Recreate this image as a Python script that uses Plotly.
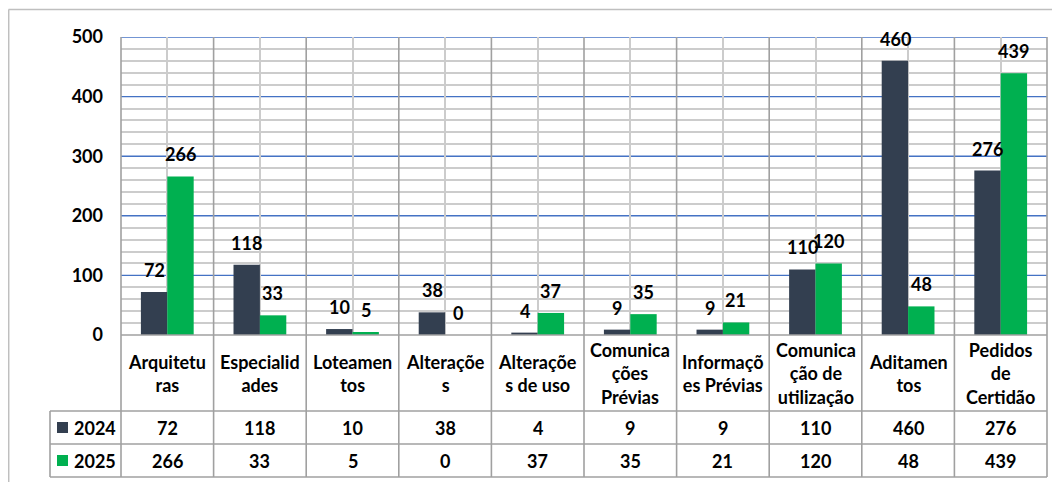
import plotly.graph_objects as go

categories = ["Arquiteturas", "Especialidades", "Loteamentos", "Alterações",
              "Alterações de uso", "Comunicações Prévias", "Informações Prévias",
              "Comunicação de utilização", "Aditamentos", "Pedidos de Certidão"]
wrapped_labels = ["Arquitetu<br>ras", "Especialid<br>ades", "Loteamen<br>tos",
                  "Alteraçõe<br>s", "Alteraçõe<br>s de uso", "Comunica<br>ções<br>Prévias",
                  "Informaçõ<br>es Prévias", "Comunica<br>ção de<br>utilização",
                  "Aditamen<br>tos", "Pedidos<br>de<br>Certidão"]
series_names = ["2024", "2025"]
values_2024 = [72, 118, 10, 38, 4, 9, 9, 110, 460, 276]
values_2025 = [266, 33, 5, 0, 37, 35, 21, 120, 48, 439]
y_ticks = [0, 100, 200, 300, 400, 500]
minor_ticks = [v for v in range(0, 501, 20) if v % 100]

# the page puts the figure 8px in from the top-left corner of the window
OFF = 8
W, H = 1060 - OFF, 482 - OFF
colors = ["#333F50", "#00B050"]
FONT = "Lato"
FS = 18


def px(p):
    return (p - OFF) / W


def py(p):
    return 1 - (p - OFF) / H


# window-pixel geometry of the plot area and table
left, right, top, bottom = 121, 1047, 37, 335
row_cat, row_a, row_b, row_end = 335, 411, 444, 477
table_left = 50

fig = go.Figure()
for name, vals, col in zip(series_names, [values_2024, values_2025], colors):
    fig.add_trace(go.Bar(x=categories, y=vals, name=name, marker=dict(color=col, line=dict(width=0))))

annotations = []
# data labels above bars
for vals, shift in [(values_2024, -13), (values_2025, 13)]:
    for c, v in zip(categories, vals):
        annotations.append(dict(x=c, y=v, xref="x", yref="y", text=str(v), showarrow=False,
                                xshift=shift, yshift=22, yanchor="middle"))
# table: category row
for c, lab in zip(categories, wrapped_labels):
    annotations.append(dict(x=c, y=py((row_cat + row_a) / 2), xref="x", yref="paper", text=lab,
                            showarrow=False, yanchor="middle", align="center"))
# table: value rows
for vals, yc in [(values_2024, (row_a + row_b) / 2), (values_2025, (row_b + row_end) / 2)]:
    for c, v in zip(categories, vals):
        annotations.append(dict(x=c, y=py(yc), xref="x", yref="paper", text=str(v),
                                showarrow=False, yanchor="middle"))

shapes = []
# blue major gridlines (drawn as shapes so they sit above the grey minor grid)
for t in y_ticks[1:]:
    shapes.append(dict(type="line", xref="paper", yref="y", x0=px(left), x1=px(right),
                       y0=t, y1=t, layer="below", line=dict(color="#4472C4", width=1.4)))

# legend keys + names in the table's first column
for name, col, yc in zip(series_names, colors, [(row_a + row_b) / 2, (row_b + row_end) / 2]):
    shapes.append(dict(type="rect", xref="paper", yref="paper", x0=px(57), x1=px(68),
                       y0=py(yc + 5.5), y1=py(yc - 5.5), fillcolor=col, line=dict(width=0)))
    annotations.append(dict(x=px(72), y=py(yc), xref="paper", yref="paper", text=name,
                            showarrow=False, xanchor="left", yanchor="middle"))

line_col = "#A0A0A0"
# category boundary lines through plot and table
for i in range(len(categories) + 1):
    xp = px(left + i * (right - left) / len(categories))
    shapes.append(dict(type="line", xref="paper", yref="paper", x0=xp, x1=xp,
                       y0=py(top), y1=py(row_end), line=dict(color=line_col, width=1.6)))
# horizontal table lines
shapes.append(dict(type="line", xref="paper", yref="paper", x0=px(left), x1=px(right),
                   y0=py(row_cat), y1=py(row_cat), line=dict(color=line_col, width=1.6)))
for yy in [row_a, row_b, row_end]:
    shapes.append(dict(type="line", xref="paper", yref="paper", x0=px(table_left), x1=px(right),
                       y0=py(yy), y1=py(yy), line=dict(color=line_col, width=1.6)))
shapes.append(dict(type="line", xref="paper", yref="paper", x0=px(table_left), x1=px(table_left),
                   y0=py(row_a), y1=py(row_end), line=dict(color=line_col, width=1.6)))
# outer chart border (top and left edges)
shapes.append(dict(type="line", xref="paper", yref="paper", x0=px(8.5), x1=1,
                   y0=py(9.5), y1=py(9.5), line=dict(color="#BFBFBF", width=1.5)))
shapes.append(dict(type="line", xref="paper", yref="paper", x0=px(8.7), x1=px(8.7),
                   y0=py(9.5), y1=0, line=dict(color="#BFBFBF", width=1.5)))

fig.update_layout(
    width=W, height=H,
    margin=dict(l=0, r=0, t=0, b=0, pad=0),
    paper_bgcolor="white", plot_bgcolor="white",
    font=dict(family=FONT, size=FS, color="black", weight="bold"),
    barmode="group", bargap=0.43, bargroupgap=0,
    showlegend=False,
    xaxis=dict(domain=[px(left), px(right)], range=[-0.5, len(categories) - 0.5],
               showticklabels=False, showgrid=True, gridcolor="#CCCCCC", gridwidth=2,
               zeroline=False, showline=False, ticks="", automargin=False),
    yaxis=dict(domain=[py(bottom), py(top)], range=[0, 500], tickvals=y_ticks,
               showgrid=False, zeroline=False,
               showline=False, ticks="", ticklabelstandoff=17, automargin=False,
               tickfont=dict(family=FONT, size=FS, color="black", weight="bold"),
               minor=dict(tickvals=minor_ticks, showgrid=True, gridcolor="#CCCCCC", gridwidth=2)),
    annotations=annotations,
    shapes=shapes,
)

fig.write_html("out.html")
